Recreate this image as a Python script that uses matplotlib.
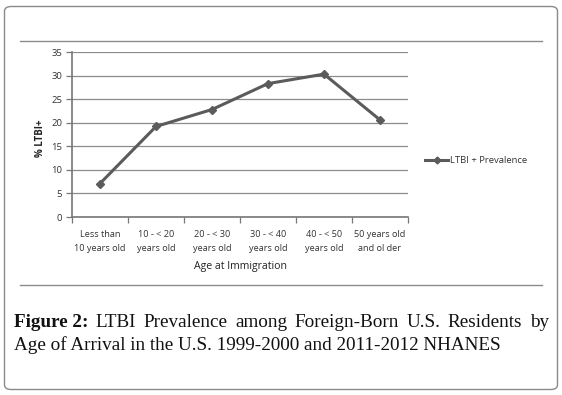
import matplotlib
matplotlib.use("Agg")
import matplotlib.pyplot as plt
from matplotlib.patches import FancyBboxPatch
from matplotlib.lines import Line2D

categories = ["Less than\n10 years old", "10 - < 20\nyears old", "20 - < 30\nyears old",
              "30 - < 40\nyears old", "40 - < 50\nyears old", "50 years old\nand ol der"]
prevalence = [7.1, 19.2, 22.8, 28.3, 30.3, 20.6]
yticks = [0, 5, 10, 15, 20, 25, 30, 35]
series_name = "LTBI + Prevalence"
y_label = "% LTBI+"
x_label = "Age at Immigration"
caption_bold = "Figure 2:"
caption_line1 = "LTBI Prevalence among Foreign-Born U.S. Residents by"
caption_line2 = "Age of Arrival in the U.S. 1999-2000 and 2011-2012 NHANES"

W, H = 562, 395
fig = plt.figure(figsize=(W / 100, H / 100), dpi=100)
fig.patch.set_facecolor("white")

def fx(px):
    return px / W

def fy(py):
    return 1 - py / H

# outer rounded border
border = FancyBboxPatch((fx(4.5), fy(389.5)), fx(553), 383 / H,
                        boxstyle="round,pad=0,rounding_size=0.012",
                        transform=fig.transFigure, fill=False,
                        edgecolor="#8a8a8a", linewidth=1.0)
fig.patches.append(border)

# horizontal separator lines
for yy in (41, 285):
    fig.add_artist(Line2D([fx(20), fx(542)], [fy(yy), fy(yy)], transform=fig.transFigure,
                          color="#8c8c8c", linewidth=1.0))

chart_font = "Open Sans"
ax = fig.add_axes([fx(72), fy(217), fx(408) - fx(72), fy(52) - fy(217)])
x = list(range(len(categories)))
ax.plot(x, prevalence, color="#5b5b5b", linewidth=2.2, marker="D", markersize=4.5,
        markerfacecolor="#5b5b5b", markeredgecolor="#5b5b5b", label=series_name)
ax.set_xlim(-0.5, len(categories) - 0.5)
ax.set_ylim(0, 35)
ax.set_yticks(yticks)
ax.set_yticklabels([str(v) for v in yticks], fontsize=6.8, family=chart_font, color="#333333")
ax.yaxis.grid(True, color="#8c8c8c", linewidth=0.9)
ax.set_axisbelow(True)
ax.set_xticks([i - 0.5 for i in range(len(categories) + 1)])
ax.set_xticklabels([])
ax.set_xticks(x, minor=True)
ax.set_xticklabels(categories, minor=True, fontsize=6.6, family=chart_font, color="#333333",
                   linespacing=1.75)
ax.tick_params(axis="x", which="minor", length=0, pad=9)
ax.tick_params(axis="x", which="major", length=4, color="#777777", width=0.9)
ax.tick_params(axis="y", length=4, color="#777777", width=0.9, pad=3)
for s in ("top", "right"):
    ax.spines[s].set_visible(False)
for s in ("left", "bottom"):
    ax.spines[s].set_color("#777777")
    ax.spines[s].set_linewidth(1.2)
ax.set_ylabel(y_label, fontsize=7.0, family=chart_font, fontweight="bold", color="#222222",
              labelpad=4)
ax.yaxis.label.set_position((0, 0.48))
ax.set_xlabel(x_label, fontsize=7.6, family=chart_font, color="#222222", labelpad=6)

leg = ax.legend(loc="center left", bbox_to_anchor=(fx(420), fy(161)),
                bbox_transform=fig.transFigure, frameon=False,
                prop={"family": chart_font, "size": 6.8}, handlelength=2.5,
                handletextpad=0.2, borderpad=0)
for t in leg.get_texts():
    t.set_color("#333333")
for h in leg.legend_handles:
    h.set_markersize(3.5)

# caption with justified first line
serif = "Liberation Serif"
renderer = fig.canvas.get_renderer()

def text_width(s, size, weight="normal"):
    t = fig.text(0, 0, s, fontsize=size, family=serif, fontweight=weight)
    w = t.get_window_extent(renderer=renderer).width
    t.remove()
    return w

target_w2 = 502 - 14
size = 10 * target_w2 / text_width(caption_line2, 10)

left_px, right_px = 14, 549
words1 = [(caption_bold, "bold")] + [(w, "normal") for w in caption_line1.split()]
widths = [text_width(w, size, wt) for w, wt in words1]
gap = (right_px - left_px - sum(widths)) / (len(words1) - 1)
xpos = left_px
for (w, wt), ww in zip(words1, widths):
    fig.text(fx(xpos), fy(327), w, fontsize=size, family=serif, fontweight=wt,
             color="#111111", va="baseline")
    xpos += ww + gap

fig.text(fx(left_px), fy(350), caption_line2, fontsize=size, family=serif,
         color="#111111", va="baseline")

fig.savefig("out.png", dpi=100)
